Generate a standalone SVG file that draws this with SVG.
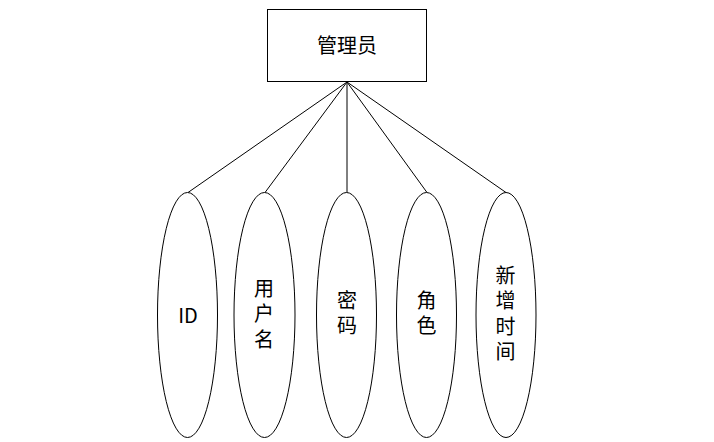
<svg xmlns="http://www.w3.org/2000/svg" width="714" height="442" viewBox="0 0 714 442">
<style>
.box{fill:#fff;stroke:#000;stroke-width:1}
.attr{fill:#fff;stroke:#000;stroke-width:1}
.conn line{stroke:#000;stroke-width:1}
text{font-family:"Noto Sans CJK SC","Liberation Sans",sans-serif;font-size:20px;fill:#000;text-anchor:middle;dominant-baseline:central}
.v{writing-mode:vertical-rl;letter-spacing:5.5px}
</style>
<rect width="714" height="442" fill="#fff"/>
<g id="connectors" class="conn">
<line x1="347" y1="82" x2="188" y2="192.5"/>
<line x1="347" y1="82" x2="265" y2="192.5"/>
<line x1="347" y1="82" x2="347" y2="192.5"/>
<line x1="347" y1="82" x2="427" y2="192.5"/>
<line x1="347" y1="82" x2="506" y2="192.5"/>
</g>
<g id="admin">
<rect class="box" x="267.5" y="9.5" width="159" height="72"/>
<text x="347" y="44">管理员</text>
</g>
<g id="attr-id">
<ellipse class="attr" cx="187.5" cy="315" rx="30" ry="122.5"/>
<text x="188" y="314">ID</text>
</g>
<g id="attr-username">
<ellipse class="attr" cx="264.5" cy="315" rx="30.5" ry="122.5"/>
<text class="v" x="264" y="316.25">用户名</text>
</g>
<g id="attr-password">
<ellipse class="attr" cx="346.5" cy="315" rx="30" ry="122.5"/>
<text class="v" x="347" y="315.5">密码</text>
</g>
<g id="attr-role">
<ellipse class="attr" cx="426.5" cy="315" rx="30" ry="122.5"/>
<text class="v" x="426.5" y="315.5">角色</text>
</g>
<g id="attr-time">
<ellipse class="attr" cx="506" cy="315" rx="30" ry="122.5"/>
<text class="v" x="505.5" y="316">新增时间</text>
</g>
</svg>
